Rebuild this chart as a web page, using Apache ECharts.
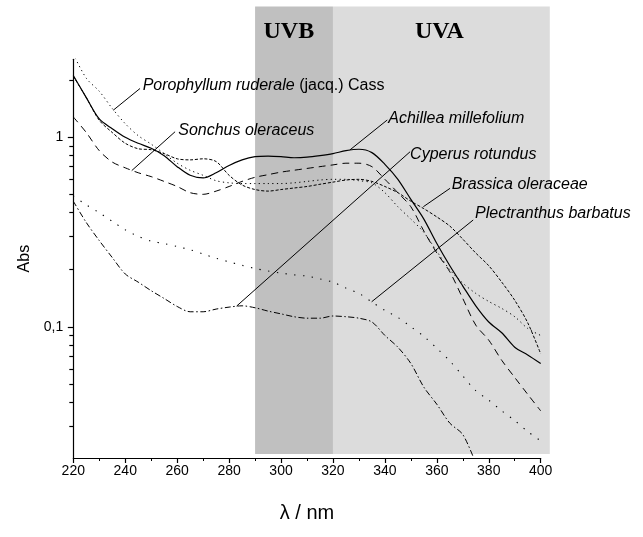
<!DOCTYPE html>
<html><head><meta charset="utf-8">
<script src="https://cdn.jsdelivr.net/npm/echarts@6/dist/echarts.min.js"></script>
<style>html,body{margin:0;padding:0;background:#fff}#c{width:643px;height:537px}</style>
</head><body><div id="c"></div>
<script>
// wavelengths (nm)
const wavelengths = [220,225,230,235,240,245,250,255,260,265,270,275,280,285,290,295,300,305,310,315,320,325,330,335,340,345,350,355,360,365,370,375,380,385,390,395,400];
// absorbance values per species
const porophyllum = [2.75,2.05,1.75,1.42,1.18,1.02,0.92,0.82,0.73,0.67,0.63,0.59,0.575,0.57,0.57,0.57,0.57,0.575,0.585,0.595,0.60,0.60,0.59,0.575,0.51,0.43,0.37,0.315,0.25,0.20,0.17,0.15,0.136,0.125,0.113,0.098,0.090];
const sonchus = [1.28,1.06,0.85,0.74,0.69,0.65,0.62,0.585,0.55,0.51,0.50,0.52,0.55,0.585,0.615,0.635,0.655,0.67,0.685,0.70,0.715,0.73,0.73,0.70,0.60,0.51,0.43,0.32,0.245,0.195,0.141,0.102,0.085,0.0665,0.054,0.044,0.036];
const achillea = [2.12,1.62,1.25,1.11,1.00,0.93,0.875,0.80,0.70,0.63,0.61,0.65,0.71,0.76,0.79,0.795,0.79,0.78,0.785,0.80,0.82,0.85,0.865,0.83,0.72,0.60,0.47,0.37,0.275,0.21,0.164,0.129,0.106,0.093,0.078,0.071,0.064];
const cyperus = [0.46,0.355,0.285,0.232,0.19,0.172,0.155,0.141,0.128,0.12,0.12,0.124,0.127,0.129,0.126,0.121,0.117,0.113,0.111,0.111,0.114,0.113,0.111,0.106,0.09,0.078,0.064,0.048,0.039,0.031,0.027,0.019];
const brassica = [2.10,1.62,1.23,1.06,0.93,0.87,0.86,0.82,0.77,0.76,0.77,0.745,0.63,0.56,0.53,0.52,0.53,0.54,0.55,0.565,0.58,0.595,0.60,0.585,0.55,0.51,0.46,0.42,0.38,0.34,0.29,0.245,0.21,0.172,0.138,0.105,0.072];
const plectranthus = [0.49,0.44,0.40,0.36,0.325,0.30,0.283,0.275,0.265,0.255,0.242,0.23,0.22,0.211,0.203,0.197,0.192,0.188,0.185,0.179,0.172,0.16,0.15,0.135,0.122,0.112,0.100,0.089,0.077,0.066,0.055,0.046,0.041,0.036,0.032,0.028,0.025];

// axis ticks
const xMin = 220, xMax = 400, xLabelStep = 20, xMinorStep = 10;
const yMin = 0.0203, yMax = 2.58;
const yMajorTicks = [0.1, 1];
const yMinorTicks = [0.03,0.04,0.05,0.06,0.07,0.08,0.09,0.2,0.3,0.4,0.5,0.6,0.7,0.8,0.9,2];

// UV bands
const bandNames = ['UVB', 'UVA'];
const bandFrom = [290, 320];
const bandTo = [320, 403.5];
const bandLabelX = [303, 361];
const bandColors = ['#c0c0c0', '#dcdcdc'];
const bandTopValue = 4.9, bandBottomValue = 0.0213, bandLabelValue = 3.6;

// annotations: [italic name, plain suffix, leader start (x,y), leader end (x,y), text anchor (x,y)]
const annItalic = ['Porophyllum ruderale', 'Sonchus oleraceus', 'Achillea millefolium', 'Cyperus rotundus', 'Brassica oleraceae', 'Plectranthus barbatus'];
const annPlain = [' (jacq.) Cass', '', '', '', '', ''];
const annFrom = [[235.4,1.39],[242.5,0.667],[326.5,0.857],[282.9,0.1286],[354.8,0.43],[334.9,0.1355]];
const annTo = [[245.7,1.81],[259.2,1.07],[340.9,1.234],[349.7,0.839],[365.1,0.538],[374.0,0.366]];
const annText = [[246.7,1.866],[260.4,1.08],[341.3,1.26],[349.7,0.806],[365.7,0.56],[374.7,0.397]];

function pairs(vals){ return vals.map((v,i)=>[wavelengths[i], v]); }

const FONT = '"Liberation Sans", Arial, sans-serif';
const chart = echarts.init(document.getElementById('c'), null, {renderer:'canvas'});

const seriesDefs = [
  {name:'Porophyllum ruderale', data:porophyllum, type:[1.2,3.3], width:1},
  {name:'Sonchus oleraceus', data:sonchus, type:[7,5], width:1},
  {name:'Achillea millefolium', data:achillea, type:'solid', width:1.2},
  {name:'Cyperus rotundus', data:cyperus, type:[6,2.5,1.5,2.5], width:1},
  {name:'Brassica oleraceae', data:brassica, type:[3,1.8], width:1},
  {name:'Plectranthus barbatus', data:plectranthus, type:[1.3,7.5], width:1.1}
];

const option = {
  animation:false,
  backgroundColor:'#fff',
  grid:{left:73.3, right:102.3, top:59.3, bottom:79, containLabel:false},
  xAxis:{
    type:'value', min:xMin, max:xMax, interval:xLabelStep,
    name:'λ / nm', nameLocation:'middle', nameGap:45,
    nameTextStyle:{fontFamily:FONT, fontSize:20, color:'#000'},
    axisLine:{lineStyle:{color:'#000', width:1.2}},
    axisTick:{length:5, lineStyle:{color:'#000', width:1.2}},
    minorTick:{show:true, splitNumber:xLabelStep/xMinorStep, length:3, lineStyle:{color:'#000', width:1}},
    axisLabel:{fontFamily:FONT, fontSize:14, color:'#000', margin:6},
    splitLine:{show:false}
  },
  yAxis:[{
    type:'log', min:yMin, max:yMax,
    name:'Abs', nameLocation:'middle', nameGap:31, nameRotate:90,
    nameTextStyle:{fontFamily:FONT, fontSize:16, color:'#000'},
    axisLine:{show:true, lineStyle:{color:'#000', width:1.2}},
    axisTick:{show:true, length:5.5, customValues:yMajorTicks, lineStyle:{color:'#000', width:1.2}},
    axisLabel:{fontFamily:FONT, fontSize:14, color:'#000', margin:10, customValues:yMajorTicks,
      formatter:(v)=>String(v).replace('.', ',')},
    splitLine:{show:false}
  },{
    type:'log', min:yMin, max:yMax, position:'left',
    axisLine:{show:false},
    axisTick:{show:true, length:4, customValues:yMinorTicks, lineStyle:{color:'#000', width:1.2}},
    axisLabel:{show:false},
    splitLine:{show:false}
  }],
  series: seriesDefs.map(s=>({
    name:s.name, type:'line', data:pairs(s.data), yAxisIndex:0,
    showSymbol:false, symbol:'none', smooth:0.3, clip:true, z:5,
    lineStyle:{color:'#000', width:s.width, type:s.type}
  }))
};
chart.setOption(option);

function px(x,y){ return chart.convertToPixel({seriesIndex:2}, [x,y]); }
const graphics = [];
bandNames.forEach((n,i)=>{
  const a = px(bandFrom[i], bandTopValue), b = px(bandTo[i], bandBottomValue);
  graphics.push({type:'rect', z:-10, silent:true, shape:{x:a[0], y:a[1], width:b[0]-a[0], height:b[1]-a[1]}, style:{fill:bandColors[i]}});
  const t = px(bandLabelX[i], bandLabelValue);
  graphics.push({type:'text', z:10, x:t[0], y:t[1], style:{text:n, fill:'#000', font:'bold 24px "Liberation Serif", "Times New Roman", serif', align:'center', verticalAlign:'middle'}});
});
annItalic.forEach((n,i)=>{
  const a = px(annFrom[i][0], annFrom[i][1]), b = px(annTo[i][0], annTo[i][1]), t = px(annText[i][0], annText[i][1]);
  graphics.push({type:'line', z:10, shape:{x1:a[0], y1:a[1], x2:b[0], y2:b[1]}, style:{stroke:'#000', lineWidth:1}});
  graphics.push({type:'text', z:10, x:t[0], y:t[1], style:{
    text:'{i|'+n+'}'+(annPlain[i]? '{p|'+annPlain[i]+'}' : ''),
    align:'left', verticalAlign:'middle', fill:'#000',
    rich:{i:{fontStyle:'italic', fontSize:16, fontFamily:FONT, fill:'#000'}, p:{fontSize:16, fontFamily:FONT, fill:'#000'}}
  }});
});
chart.setOption({graphic:graphics});
</script></body></html>
